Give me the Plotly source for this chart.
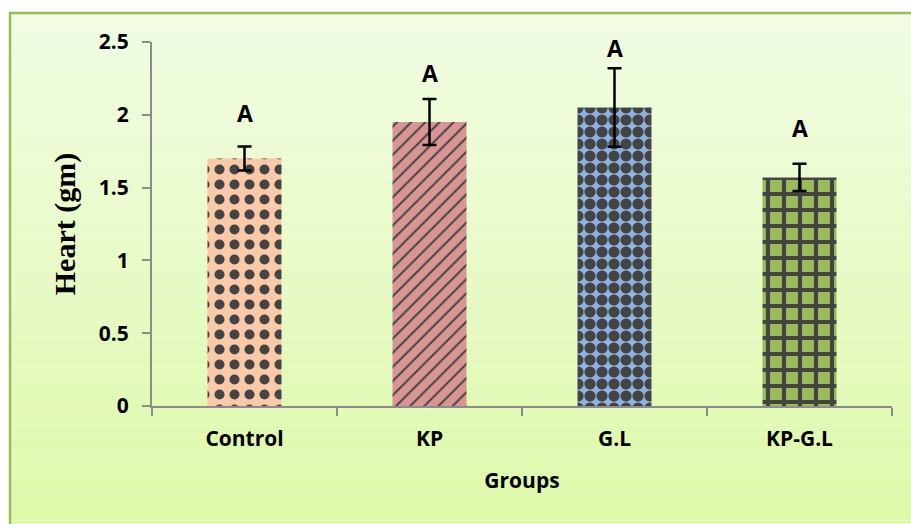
import plotly.graph_objects as go

groups = ["Control", "KP", "G.L", "KP-G.L"]
heart = [1.70, 1.95, 2.05, 1.57]
err = [0.082, 0.158, 0.27, 0.093]
letters = ["A", "A", "A", "A"]
letter_y = [1.915, 2.19, 2.36, 1.81]
colors = ["#fac9a8", "#d99594", "#8db3e2", "#9bbb59"]
shapes_pat = [".", "/", ".", "+"]
sizes_pat = [15, 10, 12, 16]
solid_pat = [0.35, 0.2, 0.68, 0.45]
yticks = [0, 0.5, 1, 1.5, 2, 2.5]

W, H = 911, 524
L, R, T, B = 152, 19, 42, 118
pw, ph = W - L - R, H - T - B


def px_to_paper_x(x):
    return (x - L) / pw


def px_to_paper_y(y):
    return 1 - (y - T) / ph


fig = go.Figure()
fig.add_trace(go.Bar(
    x=groups, y=heart,
    marker=dict(
        color=colors,
        line=dict(width=0),
        pattern=dict(shape=shapes_pat, size=sizes_pat, solidity=solid_pat,
                     fgcolor="black", fgopacity=1, fillmode="overlay"),
    ),
    error_y=dict(type="data", array=err, visible=True, color="black",
                 thickness=2.5, width=7),
    width=0.4,
))

for g, ly, t in zip(groups, letter_y, letters):
    fig.add_annotation(x=g, y=ly, text="<b>%s</b>" % t, showarrow=False,
                       yanchor="bottom", yshift=-4,
                       font=dict(family="Open Sans", size=23, color="black"))

# background gradient (decoration) + frame
n = 60
top = (241, 252, 227)
bot = (221, 249, 168)
fx0, fx1 = px_to_paper_x(10), px_to_paper_x(W + 5)
fy_top, fy_bot = px_to_paper_y(13), px_to_paper_y(H + 5)
for i in range(n):
    f = i / (n - 1)
    c = tuple(round(top[k] + (bot[k] - top[k]) * f) for k in range(3))
    ya = fy_top - (fy_top - fy_bot) * i / n
    yb = fy_top - (fy_top - fy_bot) * (i + 1) / n
    fig.add_shape(type="rect", xref="paper", yref="paper", layer="below",
                  x0=fx0, x1=fx1, y0=yb, y1=ya,
                  fillcolor="rgb(%d,%d,%d)" % c, line=dict(width=0))
fig.add_shape(type="rect", xref="paper", yref="paper", layer="below",
              x0=fx0, x1=fx1, y0=fy_bot, y1=fy_top,
              fillcolor="rgba(0,0,0,0)", line=dict(color="#9bbb59", width=2.5))

fig.update_layout(
    width=W, height=H,
    margin=dict(l=L, r=R, t=T, b=B, autoexpand=False),
    paper_bgcolor="white", plot_bgcolor="rgba(0,0,0,0)",
    showlegend=False,
    bargap=0.6,
    xaxis=dict(
        automargin=False,
        showline=True, linecolor="#8c8c8c", linewidth=2,
        ticks="outside", tickson="boundaries", ticklen=8, tickcolor="#8c8c8c",
        tickwidth=2, ticklabelstandoff=13,
        tickfont=dict(family="Open Sans", size=21, color="black", weight="bold"),
        title=dict(text="<b>Groups</b>", standoff=22,
                   font=dict(family="Open Sans", size=21, color="black")),
        showgrid=False,
    ),
    yaxis=dict(
        automargin=False,
        range=[0, 2.5], tickvals=yticks,
        ticktext=["<b>%g</b>" % t for t in yticks],
        showline=True, linecolor="#8c8c8c", linewidth=2,
        ticks="outside", ticklen=8, tickcolor="#8c8c8c", tickwidth=2,
        ticklabelstandoff=9,
        tickfont=dict(family="Open Sans", size=21, color="black"),
        title=dict(text="<b>Heart (gm)</b>", standoff=14,
                   font=dict(family="Liberation Serif", size=30, color="black")),
        showgrid=False, zeroline=False,
    ),
)

fig.write_html("out.html", config={"displayModeBar": False},
               post_script="document.body.style.margin='0';document.body.style.padding='0';")
